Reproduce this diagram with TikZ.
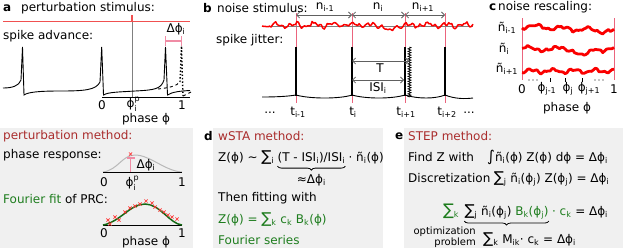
\documentclass[tikz,border=0pt]{standalone}
\usepackage{fontspec}
\setmainfont{DejaVu Sans}
\usetikzlibrary{arrows.meta,positioning,decorations.pathreplacing,decorations.pathmorphing}
\definecolor{stimred}{RGB}{240,80,80}
\definecolor{noisered}{RGB}{250,0,0}
\definecolor{markpink}{RGB}{235,100,125}
\definecolor{barpink}{RGB}{240,140,165}
\definecolor{methred}{RGB}{170,45,45}
\definecolor{fitgreen}{RGB}{30,125,30}
\definecolor{curvegreen}{RGB}{20,105,20}
\definecolor{panelgray}{RGB}{240,240,240}
\newcommand{\subx}[1]{\textsubscript{#1}}
\newcommand{\supx}[1]{\textsuperscript{#1}}
\newcommand{\bigsum}{{\fontsize{15}{15}\selectfont ∑}}
\newcommand{\phip}{ϕ\rlap{\raisebox{0.35ex}{\supx{p}}}\raisebox{-0.2ex}{\subx{i}}}

\begin{document}
\begin{tikzpicture}[x=1pt,y=-1pt,
    font=\fontsize{12}{14}\selectfont,
    txt/.style={inner sep=0pt, anchor=west},
    ctr/.style={inner sep=0pt},
    panel/.style={txt, font=\fontsize{12}{14}\selectfont\bfseries},
    method/.style={txt, text=methred},
    greentxt/.style={text=fitgreen},
    trace/.style={line width=0.9pt},
    spike/.style={line width=1.4pt},
    tmark/.style={draw=markpink, line width=0.8pt},
    dimarrow/.style={{Straight Barb[length=3pt,width=6pt]}-{Straight Barb[length=3pt,width=6pt]},
        draw=gray!75!black, line width=0.8pt},
    noise/.style={noisered, line width=1.5pt, line join=round},
    rescaled/.style={noisered, line width=2.8pt, line join=round},
    bgbox/.style={fill=panelgray, draw=none},
    ubrace/.style={decorate, decoration={brace, mirror, amplitude=4pt}, line width=0.8pt},
    xmarks/.style={draw=red!80, line width=0.7pt, mark size=2.2pt}
    ]
    \useasboundingbox (0,0) rectangle (623,250);
    \fill[bgbox] (0,128) rectangle (193,248);
    \fill[bgbox] (213,128) rectangle (383,248);
    \fill[bgbox] (404,128) rectangle (623,248);

    % a: perturbation
    \node[panel] (la) at (3,8) {a};
    \node[txt] (stimtxt) at (21,8) {perturbation stimulus:};
    \draw[stimred, line width=1.2pt] (3,21.5) -- (190,21.5);
    \draw[stimred, line width=1.4pt] (132,15) -- (132,21.5);
    \draw[gray, line width=0.5pt] (132,22) -- (132,97);
    \node[txt] (advtxt) at (3,36) {spike advance:};
    \draw[trace] (3,88) .. controls (12,88) and (19,86) .. (21,80) -- (22.5,47) -- (24,95)
        .. controls (28,92) and (40,91) .. (60,91) .. controls (85,91) and (96,90) .. (100,82)
        -- (101.7,47) -- (103.5,95) .. controls (108,92) and (120,92) .. (135,91)
        .. controls (155,90) and (161,89) .. (164,80) -- (165.5,47) -- (167.5,95)
        .. controls (172,92) and (180,91) .. (190,90.5);
    \draw[trace, dashed] (158,89) .. controls (168,88) and (177,86) .. (180,82);
    \draw[spike, dotted] (180,82) -- (181.5,46) -- (183,96);
    \draw[trace, dashed] (183,96) -- (191,92);
    \draw[line width=0.8pt] (102,97) -- (190,97);
    \node[ctr] (a0) at (102,105) {0};
    \node[ctr] (aphip) at (132,104) {\phip};
    \node[ctr] (a1) at (182,105) {1};
    \node[ctr] (aphase) at (146,119) {phase ϕ};
    \coordinate (advl) at (165.5,41);
    \coordinate (advr) at (181.5,41);
    \draw[barpink, line width=1.2pt] (advl) -- (advr)
        ([yshift=5pt]advl) -- ([yshift=-5pt]advl) ([yshift=5pt]advr) -- ([yshift=-5pt]advr);
    \node[ctr] (adphi) at (176,29) {Δϕ\subx{i}};

    % b: noise and jitter
    \node[panel] (lb) at (203,8) {b};
    \node[txt] (noisetxt) at (217,8) {noise stimulus:};
    \node[txt] (jittxt) at (216,40) {spike jitter:};
    \foreach \s/\nm in {296/ta,352/tb,405/tc,445/td} {
        \coordinate (\nm) at (\s,15);
        \draw[tmark] (\s,13) -- (\s,103);
    }
    \draw[dimarrow] (ta) -- (tb);
    \draw[dimarrow] (tb) -- (tc);
    \draw[dimarrow] (tc) -- (td);
    \node[ctr] (nprev) at (325,7) {n\subx{i-1}};
    \node[ctr] (ncur) at (378,7) {n\subx{i}};
    \node[ctr] (nnext) at (423,7) {n\subx{i+1}};
    \draw[gray, line width=0.6pt] (262,26) -- (473,26);
    \pgfmathsetseed{7}
    \draw[noise] plot[domain=0:211, samples=140]
        (262+\x, {25 + 1.6*sin(19*\x) + 1.2*sin(47*\x+40) + 1.3*rand + max(0,7-abs(\x-128)*0.8)});
    \draw[trace] (262,97) .. controls (280,97) and (290,96) .. (296,95)
        .. controls (310,99) and (340,99) .. (352,95) .. controls (366,99) and (392,99) .. (405,95)
        .. controls (418,99) and (435,99) .. (445,95) .. controls (455,99) and (465,99) .. (473,98);
    \foreach \s in {296,352,405,445}
        \draw[spike] (\s,47) -- (\s,96);
    \draw[line width=0.8pt, decorate, decoration={zigzag, amplitude=1.4pt, segment length=2.5pt}]
        (409.5,47) -- (409.5,97);
    \coordinate (tl) at (352,61);
    \coordinate (tr) at (409,61);
    \coordinate (il) at (352,80);
    \coordinate (ir) at (404,80);
    \draw[dimarrow] (tl) -- (tr);
    \draw[dimarrow] (il) -- (ir);
    \node[ctr] (tper) at (380,68) {T};
    \node[ctr] (isi) at (378,88) {ISI\subx{i}};
    \node[ctr] (dotsl) at (270,113) {...};
    \node[ctr] (tim) at (298,112) {t\subx{i-1}};
    \node[ctr] (ti) at (353,112) {t\subx{i}};
    \node[ctr] (tip) at (406,112) {t\subx{i+1}};
    \node[ctr] (tipp) at (447,112) {t\subx{i+2}};
    \node[ctr] (dotsr) at (469,113) {...};

    % c: rescaling
    \node[panel] (lc) at (489,7) {c};
    \node[txt] (resctxt) at (498,7) {noise rescaling:};
    \draw[tmark] (522,18) -- (522,80);
    \draw[tmark] (614,18) -- (614,80);
    \pgfmathsetseed{3}
    \draw[rescaled] plot[domain=0:92, samples=50]
        (522+\x, {26 + 0.06*\x + 1.9*sin(14*\x+60) + 1.1*sin(37*\x) + 0.8*rand});
    \pgfmathsetseed{5}
    \draw[rescaled] plot[domain=0:92, samples=50]
        (522+\x, {49 + 2.0*sin(12*\x+200) + 1.1*sin(41*\x) + 0.8*rand + max(0,8-abs(\x-62)*0.7)});
    \pgfmathsetseed{11}
    \draw[rescaled] plot[domain=0:92, samples=50]
        (522+\x, {71 + 1.6*sin(17*\x+100) + 1.0*sin(43*\x) + 0.8*rand});
    \node[ctr] (nprevr) at (507,28) {ñ\subx{i-1}};
    \node[ctr] (ncurr) at (504,49) {ñ\subx{i}};
    \node[ctr] (nnextr) at (507,69) {ñ\subx{i+1}};
    \foreach \tx in {550,565,582}
        \draw[line width=0.6pt] (\tx,78) -- (\tx,82);
    \foreach \tx in {529,533,537,595,599,603}
        \fill (\tx,80) circle (0.6pt);
    \node[ctr] (c0) at (522,89) {0};
    \node[ctr] (cjm) at (547,89) {ϕ\subx{j-1}};
    \node[ctr] (cj) at (568,89) {ϕ\subx{j}};
    \node[ctr] (cjp) at (589,89) {ϕ\subx{j+1}};
    \node[ctr] (c1) at (614,89) {1};
    \node[ctr] (cphase) at (567,108) {phase ϕ};

    % perturbation method
    \node[method] (pmeth) at (3,136) {perturbation method:};
    \node[txt] (prtxt) at (3,155) {phase response:};
    \draw[gray!55, line width=1pt] (103,172) .. controls (118,170) and (122,155) .. (135,155)
        .. controls (150,155) and (165,171) .. (182,172);
    \draw[line width=0.8pt] (103,172) -- (182,172);
    \draw[barpink, line width=1.6pt] (130.5,172) -- (130.5,157) (126.5,158) -- (134.5,158);
    \draw[xmarks] plot[only marks, mark=x] coordinates {(130.5,154)};
    \node[ctr] (prdphi) at (146,165) {Δϕ\subx{i}};
    \node[ctr] (pr0) at (104,182) {0};
    \node[ctr] (prphi) at (131,183) {\phip};
    \node[ctr] (pr1) at (182,182) {1};
    \node[txt] (fftxt) at (3,199) {\textcolor{fitgreen}{Fourier fit} of PRC:};
    \draw[line width=0.8pt] (103,225) -- (182,225);
    \draw[curvegreen, line width=1.5pt] (103,225) .. controls (120,222) and (130,204) .. (145,204)
        .. controls (160,204) and (170,224) .. (182,225);
    \draw[xmarks] plot[only marks, mark=x] coordinates {(108,220) (110,224) (115,217) (119,220)
        (125,212) (130,208) (135,206) (140,204) (146,201) (152,203) (155,207) (160,210)
        (164,212) (168,215) (172,217) (177,219)};
    \node[ctr] (ff0) at (104,233) {0};
    \node[ctr] (ff1) at (182,233) {1};
    \node[ctr] (ffphase) at (146,242) {phase ϕ};

    % d: wSTA
    \node[panel] (ld) at (204,136) {d};
    \node[method] (wmeth) at (218,136) {wSTA method:};
    \node[txt] (dz) at (218,158) {Z(ϕ) \textasciitilde\ \bigsum\subx{i}};
    \node[inner sep=0pt, base right=3pt of dz] (dfrac) {(T - ISI\subx{i})/ISI\subx{i}};
    \node[inner sep=0pt, base right=3pt of dfrac] (dnoise) {· ñ\subx{i}(ϕ)};
    \draw[ubrace] ([yshift=-2pt]dfrac.south west) -- ([yshift=-2pt]dfrac.south east);
    \node[ctr, below=10pt of dfrac] (dapprox) {≈Δϕ\subx{i}};
    \node[txt] (dthen) at (218,198) {Then fitting with};
    \node[txt, greentxt] (dzfit) at (218,220) {Z(ϕ) = \bigsum\subx{k} c\subx{k} B\subx{k}(ϕ)};
    \node[txt, greentxt] (dfour) at (218,240) {Fourier series};

    % e: STEP
    \node[panel] (le) at (395,136) {e};
    \node[method] (smeth) at (408,136) {STEP method:};
    \node[txt] (efind) at (408,157) {Find Z with};
    \node[txt] (eint) at (487,157) {{\fontsize{15}{15}\selectfont ∫}ñ\subx{i}(ϕ) Z(ϕ) dϕ = Δϕ\subx{i}};
    \node[txt] (edisc) at (408,178) {Discretization};
    \node[inner sep=0pt, base right=3pt of edisc] (esum)
        {\bigsum\subx{j} ñ\subx{i}(ϕ\subx{j}) Z(ϕ\subx{j}) = Δϕ\subx{i}};
    \node[txt, greentxt] (esk) at (443,211) {{\fontsize{16}{16}\selectfont ∑}\subx{k}};
    \node[inner sep=0pt, base right=5pt of esk] (einner)
        {\bigsum\subx{j} ñ\subx{i}(ϕ\subx{j}) \textcolor{fitgreen}{B\subx{k}(ϕ\subx{j})}};
    \node[inner sep=0pt, base right=3pt of einner] (erest) {\textcolor{fitgreen}{· c\subx{k}} = Δϕ\subx{i}};
    \draw[ubrace] ([yshift=-2pt]einner.south west) -- ([yshift=-2pt]einner.south east);
    \node[inner sep=0pt, anchor=east, align=right, font=\fontsize{10}{10.5}\selectfont] (eopt)
        at (476,237) {optimization\\problem};
    \node[txt] (emik) at (483,240) {\bigsum\subx{k} M\subx{ik}· c\subx{k} = Δϕ\subx{i}};
\end{tikzpicture}
\end{document}
